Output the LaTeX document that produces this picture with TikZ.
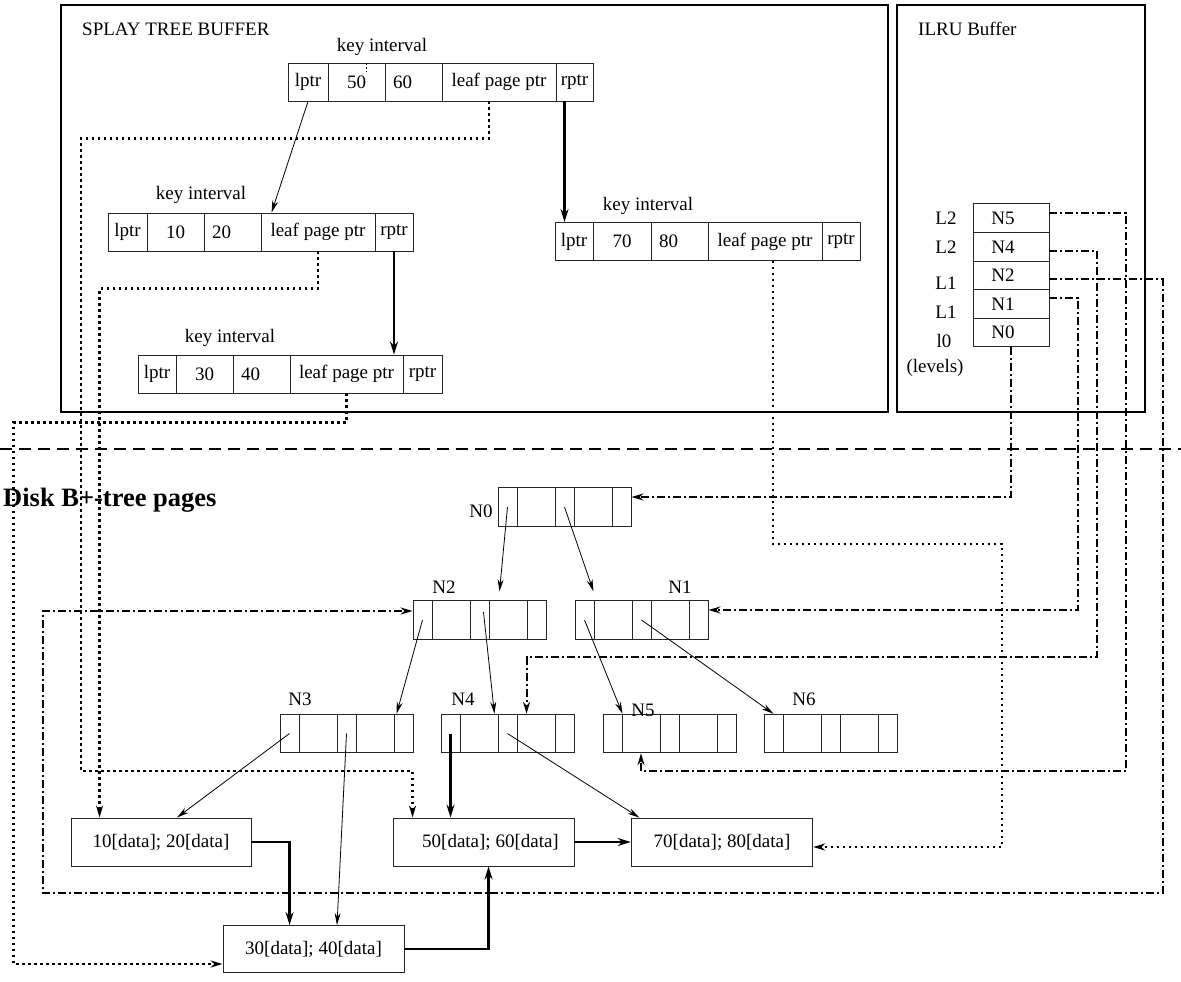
\documentclass[tikz,border=0pt]{standalone}
\usepackage{fontspec}
\setmainfont{Liberation Serif}
\usetikzlibrary{arrows.meta,calc}
\newcommand{\bpage}[3]{%
  \node[pcell, minimum width=19pt] (#1-1) at (#2+9.5,#3) {};
  \node[pcell, minimum width=38pt] (#1-2) at (#2+38,#3) {};
  \node[pcell, minimum width=19pt] (#1-3) at (#2+66.5,#3) {};
  \node[pcell, minimum width=38pt] (#1-4) at (#2+95,#3) {};
  \node[pcell, minimum width=19pt] (#1-5) at (#2+123.5,#3) {};
}
\begin{document}
\begin{tikzpicture}[x=1pt,y=-1pt,
  every node/.style={font=\fontsize{19}{22}\selectfont, inner sep=0pt},
  cell/.style={draw=black!85, line width=0.9pt, minimum height=38pt, inner sep=0pt},
  lcell/.style={cell, align=left, inner xsep=8pt},
  pcell/.style={draw=black!85, line width=0.9pt, minimum height=38.5pt},
  icell/.style={draw=black!85, line width=0.9pt, minimum width=76pt, minimum height=28.5pt},
  dbox/.style={draw=black!85, line width=0.9pt, minimum height=48pt},
  frame/.style={draw, line width=1.8pt},
  thinarr/.style={line width=0.8pt, -{Stealth[length=12pt,width=6pt]}},
  thickarr/.style={line width=2.4pt, -{Stealth[length=13pt,width=8pt]}},
  dotarr/.style={line width=2.2pt, dash pattern=on 2.5pt off 3.5pt, -{Stealth[length=12pt,width=7pt]}},
  dasharr/.style={line width=2pt, dash pattern=on 8pt off 3pt on 2pt off 3pt, -{Stealth[length=12pt,width=7pt]}},
  sepline/.style={line width=1.8pt, dash pattern=on 12pt off 7pt}
]
\useasboundingbox (0,0) rectangle (1181,982);

% buffers
\draw[frame] (61,5) rectangle (888,412);
\draw[frame] (897,5) rectangle (1145,412);
\node[anchor=west] (t1) at (82,29) {SPLAY TREE BUFFER};
\node[anchor=west] (t2) at (918,29) {ILRU Buffer};

% splay node 1
\node[cell, minimum width=40pt] (s1a) at (308,82) {lptr};
\node[cell, minimum width=57pt] (s1b) at (356.5,82) {50};
\node[lcell, text width=41pt] (s1c) at (413.5,82) {60};
\node[cell, minimum width=114pt] (s1d) at (499,82) {leaf page ptr};
\node[cell, minimum width=37pt] (s1e) at (574.5,82) {rptr};
\node (k1) at (382,47) {key interval};
\draw[line width=1pt, dash pattern=on 2pt off 2pt] (366,63) -- (366,72);

% splay node 2
\node[cell, minimum width=39pt] (s2a) at (127.5,232) {lptr};
\node[cell, minimum width=57pt] (s2b) at (175.5,232) {10};
\node[lcell, text width=41pt] (s2c) at (232.5,232) {20};
\node[cell, minimum width=114pt] (s2d) at (318,232) {leaf page ptr};
\node[cell, minimum width=38pt] (s2e) at (394,232) {rptr};
\node (k2) at (201,195) {key interval};

% splay node 3
\node[cell, minimum width=38pt] (s3a) at (157,374) {lptr};
\node[cell, minimum width=57pt] (s3b) at (204.5,374) {30};
\node[lcell, text width=41pt] (s3c) at (261.5,374) {40};
\node[cell, minimum width=113pt] (s3d) at (346.5,374) {leaf page ptr};
\node[cell, minimum width=39pt] (s3e) at (422.5,374) {rptr};
\node (k3) at (230,338) {key interval};

% splay node 4
\node[cell, minimum width=38pt] (s4a) at (574,241.5) {lptr};
\node[cell, minimum width=58pt] (s4b) at (622,241.5) {70};
\node[lcell, text width=41pt] (s4c) at (679.5,241.5) {80};
\node[cell, minimum width=114pt] (s4d) at (765,241.5) {leaf page ptr};
\node[cell, minimum width=38pt] (s4e) at (841,241.5) {rptr};
\node (k4) at (648,206) {key interval};

% splay arrows
\draw[thinarr] (s1a.south) -- ($(s2d.north west)+(11,0)$);
\coordinate (r1) at ($(s1e.south west)+(9,0)$);
\draw[thickarr] (r1) -- (r1 |- s4a.north);
\draw[thickarr] (s2e.south) -- (s2e.south |- s3d.north);

% ILRU stack
\node[icell] (iN5) at (1011,218) {\hspace*{-16pt}N5};
\node[icell] (iN4) at (1011,246.75) {\hspace*{-16pt}N4};
\node[icell] (iN2) at (1011,275.25) {\hspace*{-16pt}N2};
\node[icell] (iN1) at (1011,303.75) {\hspace*{-16pt}N1};
\node[icell] (iN0) at (1011,332.25) {\hspace*{-16pt}N0};
\node (l5) at (946,218) {L2};
\node (l4) at (946,247) {L2};
\node (l2) at (946,283) {L1};
\node (l1) at (946,312) {L1};
\node (l0) at (944,341) {l0};
\node (lv) at (935,368) {(levels)};

% separator
\draw[sepline] (0,449) -- (1181,449);
\node[anchor=west, font=\fontsize{26.5}{30}\selectfont\bfseries] (disk) at (3,500) {Disk B+-tree pages};

% B+ tree pages
\bpage{p0}{498}{507}
\bpage{p2}{413}{620}
\bpage{p1}{575}{620}
\bpage{p3}{280}{733.5}
\bpage{p4}{441}{733.5}
\bpage{p5}{603}{733.5}
\bpage{p6}{764}{733.5}
\node (n0) at (481,511) {N0};
\node (n2) at (444,587) {N2};
\node (n1) at (680,587) {N1};
\node (n3) at (300,699) {N3};
\node (n4) at (463,699) {N4};
\node (n5) at (643,710) {N5};
\node (n6) at (804,699) {N6};

% data pages
\node[dbox, minimum width=180pt] (d10) at (161,842) {10[data]; 20[data]};
\node[dbox, minimum width=181pt] (d50) at (483.5,842) {\hspace*{14pt}50[data]; 60[data]};
\node[dbox, minimum width=181.5pt] (d70) at (722,842) {70[data]; 80[data]};
\node[dbox, minimum width=181pt, minimum height=47pt] (d30) at (313.5,949) {30[data]; 40[data]};

% tree arrows
\draw[thinarr] (p0-1.center) -- ($(p2-4.north)+(-8.5,-9)$);
\draw[thinarr] (p0-3.center) -- ($(p1-1.north east)+(-1,-9)$);
\draw[thinarr] (p2-1.center) -- ($(p3-5.north west)+(3,0)$);
\draw[thinarr] ($(p2-3.center)+(4,-8)$) -- ($(p4-2.north east)+(-4,0)$);
\draw[thinarr] (p1-1.center) -- (p5-1.north east);
\draw[thinarr] (p1-3.center) -- (p6-1.north);
\draw[thinarr] (p3-1.center) -- ($(d10.north)+(16,0)$);
\draw[thinarr] (p3-3.center) -- ($(d30.north)+(23.5,0)$);
\draw[thinarr] (p4-3.center) -- ($(d70.north west)+(8.5,0)$);
\draw[thickarr] (p4-1.center) -- (p4-1.center |- d50.north);

% leaf chain
\draw[thickarr] (d10.east) -| ($(d30.north west)+(67,0)$);
\draw[thickarr] (d30.east) -| ($(d50.south west)+(96,0)$);
\draw[thickarr] (d50.east) -- (d70.west);

% leaf page pointers (dotted)
\draw[dotarr] ($(s1d.south)+(-10,0)$) -- ++(0,37) -| (81,771) -| ($(d50.north west)+(20,0)$);
\draw[dotarr] (s2d.south) -- ++(0,37) -| ($(d10.north west)+(29,0)$);
\draw[dotarr] (s3d.south) -- ++(0,29) -| ($(d30.west)+(-209,15)$) -- ($(d30.west)+(0,15)$);
\draw[dotarr] ($(s4d.south)+(8,0)$) |- (1002,544) |- ($(d70.east)+(0,5)$);

% ILRU pointers (dash-dot)
\draw[dasharr] (iN0.south) |- ($(p0-5.east)+(0,-10)$);
\draw[dasharr] ($(iN1.east)+(0,-6)$) -| (1078,450) |- ($(p1-5.east)+(0,-10)$);
\draw[dasharr] ($(iN2.east)+(0,4)$) -| (1163,893) -| (43,611) -- ($(p2-1.west)+(0,-9)$);
\draw[dasharr] ($(iN4.east)+(0,4)$) -| (1097,657) -| ($(p4-4.north west)+(10,0)$);
\draw[dasharr] ($(iN5.east)+(0,-5)$) -| (1126,771) -| (p5-2.south);
\end{tikzpicture}
\end{document}
